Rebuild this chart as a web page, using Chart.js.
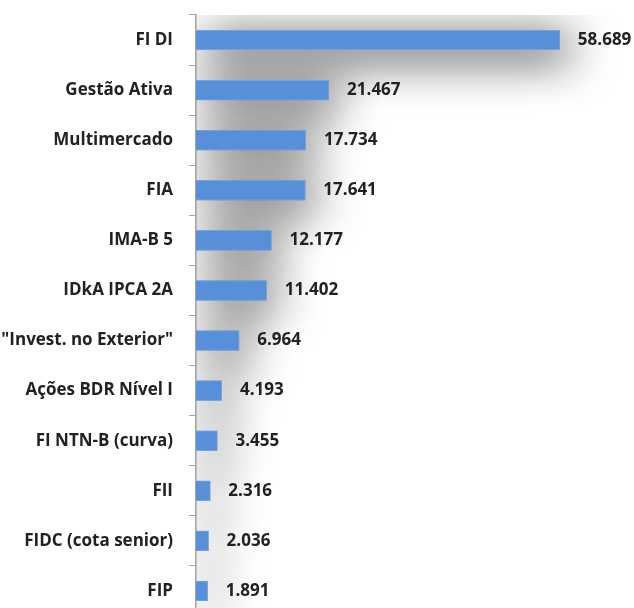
<!DOCTYPE html>
<html>
<head>
<meta charset="utf-8">
<script src="https://cdn.jsdelivr.net/npm/chart.js@4"></script>
<style>
  html, body { margin: 0; padding: 0; background: #fff; overflow: hidden; }
</style>
</head>
<body>
<canvas id="fundChart" width="634" height="620"></canvas>
<script>
const fundNames = [
    'FI DI',
    'Gestão Ativa',
    'Multimercado',
    'FIA',
    'IMA-B 5',
    'IDkA IPCA 2A',
    '"Invest. no Exterior"',
    'Ações BDR Nível I',
    'FI NTN-B (curva)',
    'FII',
    'FIDC (cota senior)',
    'FIP'
];
const fundValues = [58689, 21467, 17734, 17641, 12177, 11402, 6964, 4193, 3455, 2316, 2036, 1891];
const xMax = 70000;

const barColor = '#5790d8';
const labelFont = { family: 'Open Sans', size: 17, weight: 'bold' };

function format_br(n) {
    // thousands separator as in pt-BR
    return String(n).replace(/\B(?=(\d{3})+(?!\d))/g, '.');
}

// blurred shadow behind the bars, drawn in one pass so it never covers a bar
const barShadow = {
    id: 'barShadow',
    beforeDatasetsDraw(chart) {
        const { ctx, chartArea } = chart;
        const bars = chart.getDatasetMeta(0).data;
        ctx.save();
        ctx.beginPath();
        ctx.rect(chartArea.left, chartArea.top, chartArea.right - chartArea.left, chartArea.bottom - chartArea.top);
        ctx.clip();
        ctx.shadowColor = 'rgba(0,0,0,0.95)';
        ctx.shadowBlur = 46;
        ctx.shadowOffsetX = 10;
        ctx.shadowOffsetY = 8;
        ctx.fillStyle = barColor;
        bars.forEach(b => {
            const left = Math.min(b.base, b.x);
            ctx.fillRect(left, b.y - b.height / 2, Math.abs(b.x - b.base), b.height);
        });
        ctx.restore();
    }
};

const valueLabels = {
    id: 'valueLabels',
    afterDatasetsDraw(chart) {
        const { ctx } = chart;
        const bars = chart.getDatasetMeta(0).data;
        ctx.save();
        ctx.font = `${labelFont.weight} ${labelFont.size}px "${labelFont.family}"`;
        ctx.fillStyle = '#222';
        ctx.textAlign = 'left';
        ctx.textBaseline = 'middle';
        bars.forEach((b, i) => {
            ctx.fillText(format_br(fundValues[i]), b.x + 18, b.y);
        });
        ctx.restore();
    }
};

const ctx = document.getElementById('fundChart').getContext('2d');
const chart = new Chart(ctx, {
    type: 'bar',
    data: {
        labels: fundNames,
        datasets: [{
            data: fundValues,
            backgroundColor: barColor,
            borderColor: '#74a3e0',
            borderWidth: 1,
            categoryPercentage: 1,
            barPercentage: 0.4
        }]
    },
    options: {
        indexAxis: 'y',
        responsive: false,
        animation: false,
        devicePixelRatio: 1,
        layout: { padding: { top: 15, bottom: 4, left: 0, right: 4 } },
        plugins: {
            legend: { display: false },
            tooltip: { enabled: false }
        },
        scales: {
            x: { display: false, min: 0, max: xMax },
            y: {
                grid: { drawOnChartArea: false, drawTicks: true, tickLength: 7, color: '#a6a6a6', offset: true },
                border: { color: '#a6a6a6', width: 1.5 },
                ticks: { padding: 16, color: '#222', font: labelFont },
                afterFit: (scale) => {
                    scale.width = 196;
                    scale.paddingTop = 0;
                    scale.paddingBottom = 0;
                }
            }
        }
    },
    plugins: [barShadow, valueLabels]
});
</script>
</body>
</html>
